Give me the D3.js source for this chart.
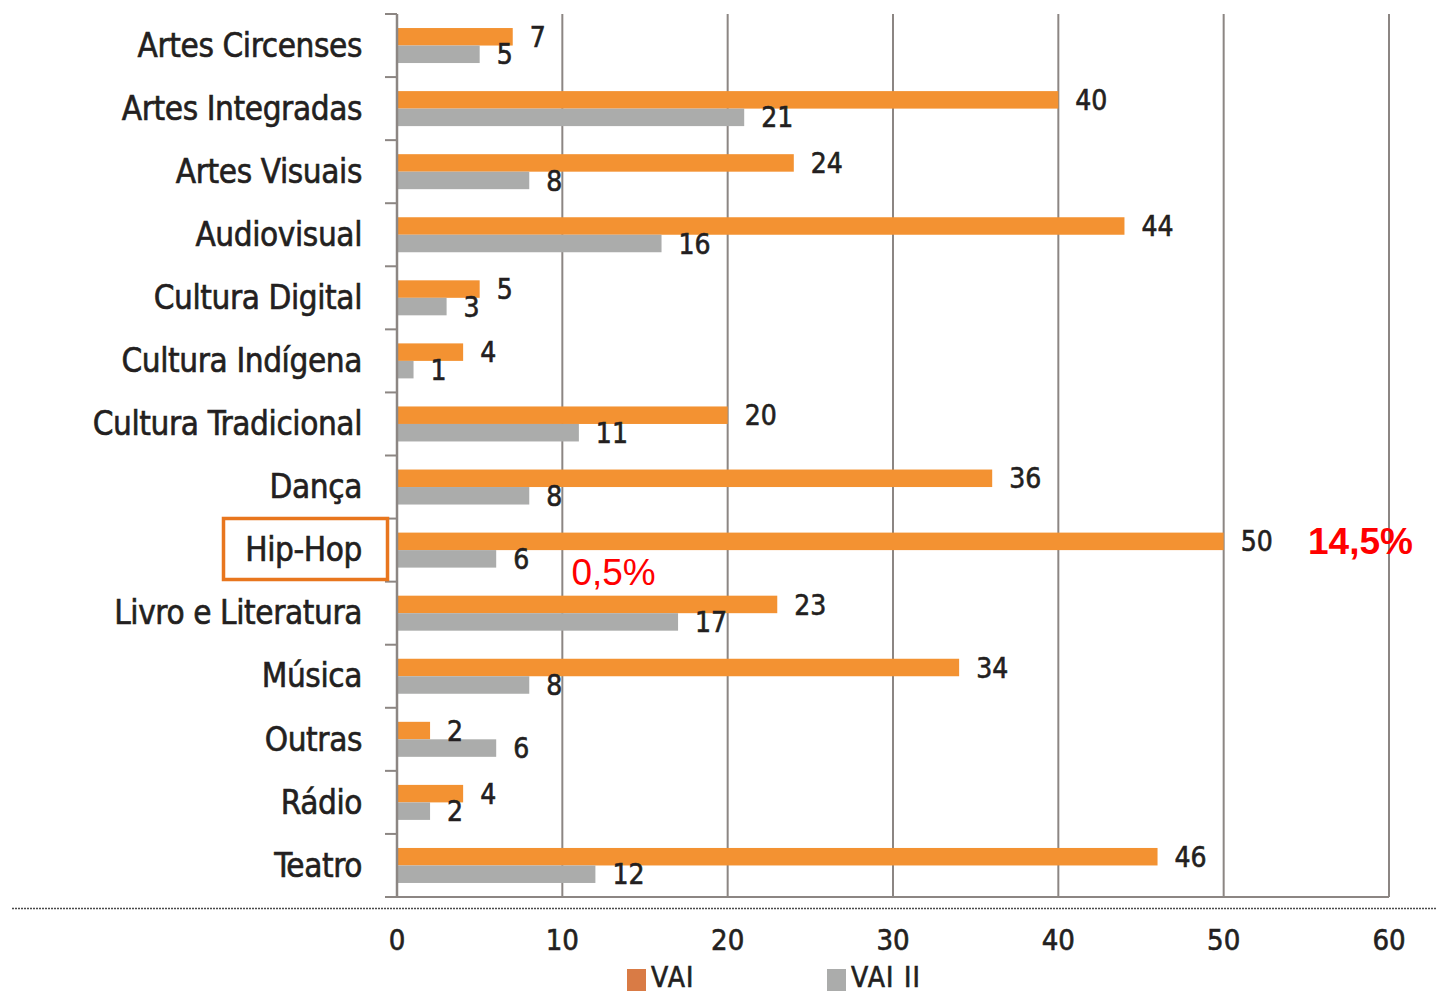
<!DOCTYPE html>
<html><head><meta charset="utf-8">
<script src="https://cdn.jsdelivr.net/npm/d3@7"></script>
<style>
html,body{margin:0;padding:0;background:#fff;}
svg{display:block;}
.lab{font-family:"DejaVu Sans Condensed","DejaVu Sans",sans-serif;fill:#231f20;stroke:#231f20;stroke-width:0.6px;}
</style></head>
<body>
<svg id="c" width="1437" height="993"></svg>
<script>
const categories = ["Artes Circenses","Artes Integradas","Artes Visuais","Audiovisual","Cultura Digital","Cultura Indígena","Cultura Tradicional","Dança","Hip-Hop","Livro e Literatura","Música","Outras","Rádio","Teatro"];
const seriesNames = ["VAI","VAI II"];
const vai   = [7,40,24,44,5,4,20,36,50,23,34,2,4,46];
const vaiII = [5,21,8,16,3,1,11,8,6,17,8,6,2,12];
const xTicks = [0,10,20,30,40,50,60];
const highlightCategory = "Hip-Hop";
const annotations = [{text:"14,5%", value:55.1, series:"VAI", bold:true},{text:"0,5%", value:10.55, series:"VAI II", bold:false}];

const svg = d3.select("#c");
const colors = {"VAI":"#F39232","VAI II":"#ABACAB"};
const legendColors = {"VAI":"#D97B45","VAI II":"#ABACAB"};
const gridColor = "#8C8683";

const x = d3.scaleLinear().domain([0,60]).range([397,1389]);
const y = d3.scaleBand().domain(categories).range([14,897]).paddingInner(0).paddingOuter(0);
const yi = d3.scaleBand().domain(seriesNames).range([0,y.bandwidth()]).paddingInner(0).paddingOuter(0.802);

const data = categories.map((c,i)=>({cat:c, vals:[{s:"VAI",v:vai[i]},{s:"VAI II",v:vaiII[i]}]}));

// gridlines
svg.append("g").selectAll("line").data(xTicks.slice(1)).join("line")
  .attr("x1",d=>x(d)).attr("x2",d=>x(d)).attr("y1",14).attr("y2",897)
  .attr("stroke",gridColor).attr("stroke-width",2);

// bars
const g = svg.append("g");
const groups = g.selectAll("g").data(data).join("g").attr("transform",d=>`translate(0,${y(d.cat)})`);
groups.selectAll("rect").data(d=>d.vals).join("rect")
  .attr("x",x(0)).attr("y",d=>yi(d.s)).attr("width",d=>x(d.v)-x(0)).attr("height",yi.bandwidth())
  .attr("fill",d=>colors[d.s]);
groups.selectAll("text").data(d=>d.vals).join("text")
  .attr("class","lab")
  .attr("x",d=>x(d.v)+17).attr("y",d=>yi(d.s)+yi.bandwidth()/2)
  .attr("dy","0.36em").attr("font-size",28)
  .text(d=>d.v);

// y axis line
svg.append("line").attr("x1",x(0)).attr("x2",x(0)).attr("y1",14).attr("y2",897)
  .attr("stroke",gridColor).attr("stroke-width",2.5);
// y ticks at band boundaries
const bounds = categories.map(c=>y(c)).concat([y.range()[1]]);
svg.append("g").selectAll("line").data(bounds).join("line")
  .attr("x1",385).attr("x2",x(0)).attr("y1",d=>d).attr("y2",d=>d)
  .attr("stroke",gridColor).attr("stroke-width",2);
// x axis line
svg.append("line").attr("x1",385).attr("x2",x(60)).attr("y1",897).attr("y2",897)
  .attr("stroke",gridColor).attr("stroke-width",2);
// dotted baseline
svg.append("line").attr("x1",12).attr("x2",1437).attr("y1",908.5).attr("y2",908.5)
  .attr("stroke","#4a4a4a").attr("stroke-width",1.6).attr("stroke-dasharray","2,1");

// category labels
svg.append("g").selectAll("text").data(categories).join("text")
  .attr("class","lab").attr("text-anchor","end")
  .attr("x",362).attr("y",d=>y(d)+y.bandwidth()/2).attr("dy","0.34em")
  .attr("font-size",33).attr("letter-spacing","-0.4")
  .text(d=>d);

// x tick labels
svg.append("g").selectAll("text").data(xTicks).join("text")
  .attr("class","lab").attr("text-anchor","middle")
  .attr("x",d=>x(d)).attr("y",950).attr("font-size",29)
  .text(d=>d);

// highlight box
svg.append("rect").attr("x",223.5).attr("y",518.5).attr("width",164).attr("height",61)
  .attr("fill","none").attr("stroke","#E8761E").attr("stroke-width",3.5);

// annotations
const hy = y(highlightCategory);
svg.append("g").selectAll("text").data(annotations).join("text")
  .attr("x",d=>x(d.value)).attr("y",d=> d.series==="VAI" ? hy+yi("VAI")+yi.bandwidth()/2+13 : hy+yi("VAI II")+yi.bandwidth()/2+26)
  .attr("font-family","'Liberation Sans',Arial,sans-serif").attr("font-size",37)
  .attr("font-weight",d=>d.bold?"bold":"normal").attr("fill","#FF0000")
  .text(d=>d.text);

// legend
const lg = svg.append("g");
const legendPos = [627,827];
seriesNames.forEach((s,i)=>{
  lg.append("rect").attr("x",legendPos[i]).attr("y",969).attr("width",19).attr("height",22).attr("fill",legendColors[s]);
  lg.append("text").attr("class","lab").attr("x",legendPos[i]+24).attr("y",987).attr("font-size",28).attr("letter-spacing","1.2").text(s);
});
</script>
</body></html>
